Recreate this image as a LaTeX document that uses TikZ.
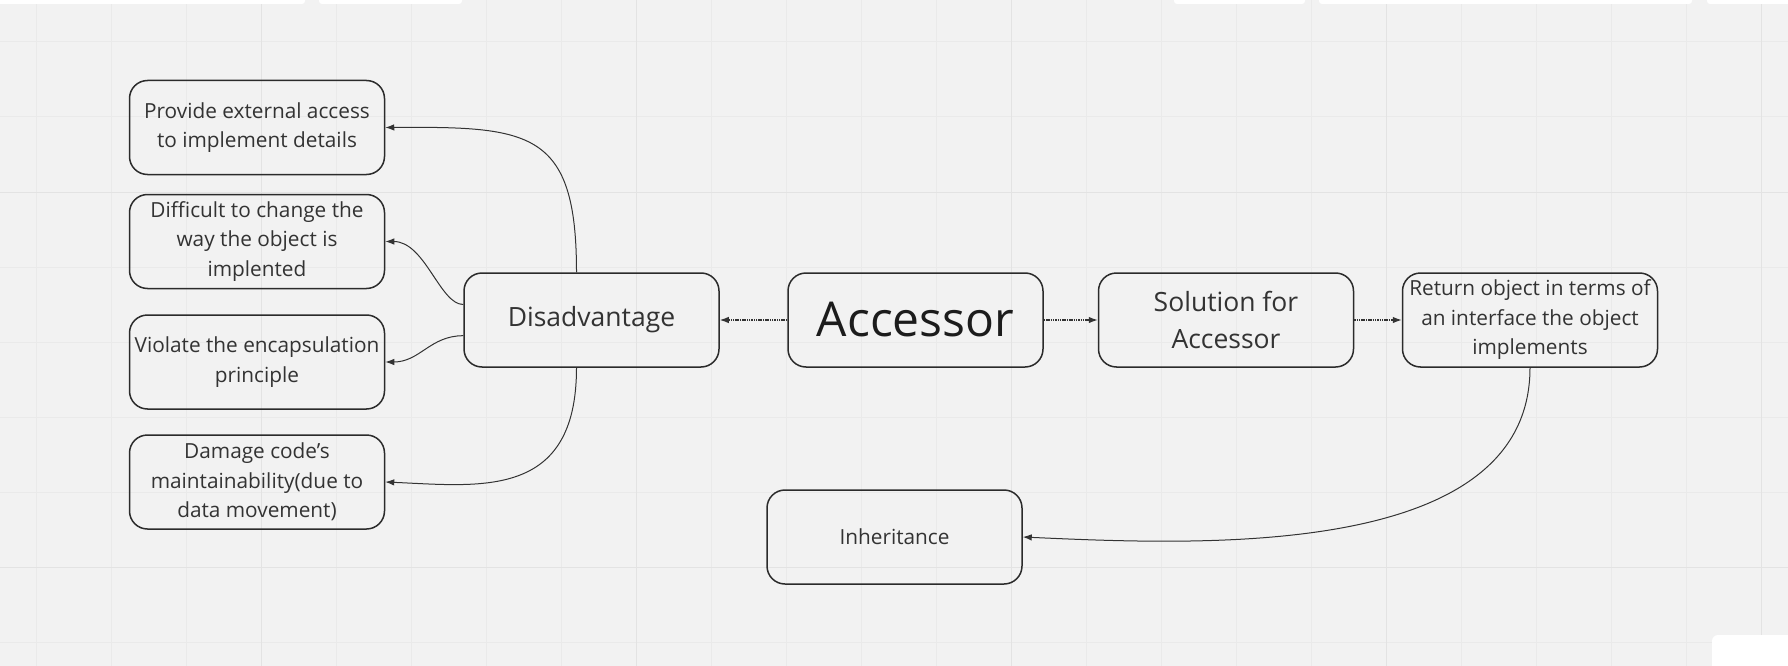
\documentclass[tikz,border=0pt]{standalone}
\usepackage{fontspec}
\setmainfont{Open Sans}
\usetikzlibrary{arrows.meta,calc}
\definecolor{bgc}{HTML}{F2F2F2}
\definecolor{gridminor}{HTML}{EAEAEA}
\definecolor{gridmajor}{HTML}{E3E3E3}
\definecolor{boxc}{HTML}{2B2B2B}
\definecolor{txt}{HTML}{333333}
\definecolor{acctxt}{HTML}{1C1C1C}
\definecolor{linec}{HTML}{333333}
\tikzset{
  box/.style={draw=boxc, line width=1.5pt, rounded corners=18pt, minimum width=255pt,
    minimum height=94pt, inner sep=0pt, align=center, text=txt,
    font=\fontsize{20.8}{29.5}\selectfont},
  bigbox/.style={box, font=\fontsize{26.5}{36.5}\selectfont},
  accbox/.style={box, font=\fontsize{48}{56}\selectfont, text=acctxt},
  conn/.style={draw=linec, line width=1pt, -{Latex[length=9pt,width=6.5pt]}},
  dotconn/.style={draw=linec, line width=1.2pt, dash pattern=on 1.5pt off 0.8pt, -{Latex[length=9pt,width=6.5pt]}},
  uibar/.style={fill=white, draw=none}
}
\begin{document}
\begin{tikzpicture}[x=1pt,y=-1pt]
\useasboundingbox (0,0) rectangle (1788,666);
\fill[bgc] (0,0) rectangle (1788,666);
% grid
\foreach \k in {0,...,23}{
  \pgfmathsetmacro{\gx}{36+75*\k}
  \draw[gridminor, line width=1pt] (\gx,0) -- (\gx,666);
}
\foreach \k in {0,...,8}{
  \pgfmathsetmacro{\gy}{42+75*\k}
  \draw[gridminor, line width=1pt] (0,\gy) -- (1788,\gy);
}
\foreach \gx in {261,636,1011,1386,1761}{
  \draw[gridmajor, line width=1pt] (\gx,0) -- (\gx,666);
}
\foreach \gy in {192,567}{
  \draw[gridmajor, line width=1pt] (0,\gy) -- (1788,\gy);
}
% UI bars
\fill[uibar, rounded corners=3pt] (-5,-5) rectangle (305,4);
\fill[uibar, rounded corners=3pt] (319,-5) rectangle (462,4);
\fill[uibar, rounded corners=3pt] (1174,-5) rectangle (1305,4);
\fill[uibar, rounded corners=3pt] (1319,-5) rectangle (1692,4);
\fill[uibar, rounded corners=3pt] (1707,-5) rectangle (1795,4);
\fill[uibar, rounded corners=6pt] (1712,635) rectangle (1795,675);

% nodes
\node[box] (prov) at (257,127.5) {Provide external access\\to implement details};
\node[box] (diff) at (257,241.5) {Difficult to change the\\way the object is\\implented};
\node[box] (viol) at (257,362) {Violate the encapsulation\\principle};
\node[box] (dama) at (257,482) {Damage code{\char"0027}s\\maintainability(due to\\data movement)};
\node[bigbox] (dis) at (591.5,320) {Disadvantage};
\node[accbox] (acc) at (915.5,320) {Accessor};
\node[bigbox] (sol) at (1226,320) {Solution for\\Accessor};
\node[box] (ret) at (1530,320) {Return object in terms of\\an interface the object\\implements};
\node[box] (inh) at (894.5,537) {Inheritance};

% connectors
\draw[dotconn] (acc.west) -- (dis.east);
\draw[dotconn] (acc.east) -- (sol.west);
\draw[dotconn] (sol.east) -- (ret.west);
\draw[conn] (ret.south) .. controls (1530,560) and (1200,545) .. (inh.east);
\draw[conn] ([xshift=-15pt]dis.north) .. controls (576.5,130) and (530,126.5) .. (prov.east);
\draw[conn] ([yshift=15.5pt]dis.west) .. controls (440,304.5) and (425,241.5) .. (diff.east);
\draw[conn] ([yshift=-15.7pt]dis.west) .. controls (430,335.7) and (420,362) .. (viol.east);
\draw[conn] ([xshift=-15pt]dis.south) .. controls (576.5,500) and (480,486) .. (dama.east);
\end{tikzpicture}
\end{document}
